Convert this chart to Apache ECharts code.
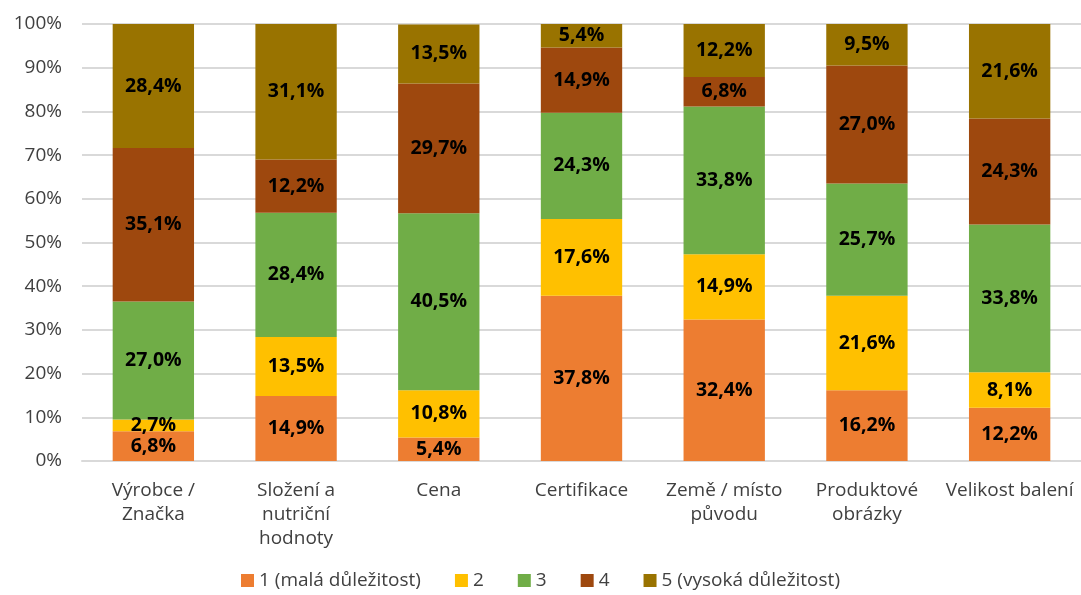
<!DOCTYPE html>
<html>
<head>
<meta charset="utf-8">
<script src="https://cdn.jsdelivr.net/npm/echarts@6/dist/echarts.min.js"></script>
<style>
  html,body{margin:0;padding:0;background:#fff;}
  #main{width:1081px;height:595px;}
</style>
</head>
<body>
<div id="main"></div>
<script>
// kategorie a hodnoty (%)
let categories=['Výrobce /\nZnačka','Složení a\nnutriční\nhodnoty','Cena','Certifikace','Země / místo\npůvodu','Produktové\nobrázky','Velikost balení'];
let seriesNames=['1 (malá důležitost)','2','3','4','5 (vysoká důležitost)'];
let s1=[6.8,14.9,5.4,37.8,32.4,16.2,12.2];
let s2=[2.7,13.5,10.8,17.6,14.9,21.6,8.1];
let s3=[27.0,28.4,40.5,24.3,33.8,25.7,33.8];
let s4=[35.1,12.2,29.7,14.9,6.8,27.0,24.3];
let s5=[28.4,31.1,13.5,5.4,12.2,9.5,21.6];
let colors=['#ED7D31','#FFC000','#70AD47','#9E480E','#997300'];

let chart=echarts.init(document.getElementById('main'),null,{renderer:'canvas'});
let allData=[s1,s2,s3,s4,s5];
let series=allData.map(function(d,i){
  return {
    name:seriesNames[i],
    type:'bar',
    stack:'total',
    barWidth:'57%',
    data:d,
    itemStyle:{color:colors[i]},
    label:{
      show:true,
      position:'inside',
      color:'#000',
      fontWeight:'bold',
      fontSize:19.5,
      fontFamily:'Open Sans',
      formatter:function(p){
        return p.value.toFixed(1).replace('.',',')+'%';
      }
    }
  };
});

let option={
  animation:false,
  grid:{
    left:82,
    right:-5,
    top:24,
    bottom:134
  },
  legend:{
    bottom:0,
    left:'center',
    itemWidth:13,
    itemHeight:13,
    itemGap:34,
    icon:'rect',
    textStyle:{color:'#404040',fontSize:19,fontFamily:'Open Sans'},
    data:seriesNames
  },
  xAxis:{
    type:'category',
    data:categories,
    axisTick:{show:false},
    axisLine:{lineStyle:{color:'#d9d9d9',width:2}},
    axisLabel:{
      color:'#404040',
      fontSize:19,
      fontFamily:'Open Sans',
      margin:18,
      lineHeight:24,
      interval:0
    }
  },
  yAxis:{
    type:'value',
    min:0,
    max:100,
    interval:10,
    axisLabel:{
      color:'#404040',
      fontSize:19,
      fontFamily:'Open Sans',
      margin:20,
      formatter:'{value}%'
    },
    splitLine:{lineStyle:{color:'#d9d9d9',width:2}}
  },
  series:series
};
chart.setOption(option);
</script>
</body>
</html>
